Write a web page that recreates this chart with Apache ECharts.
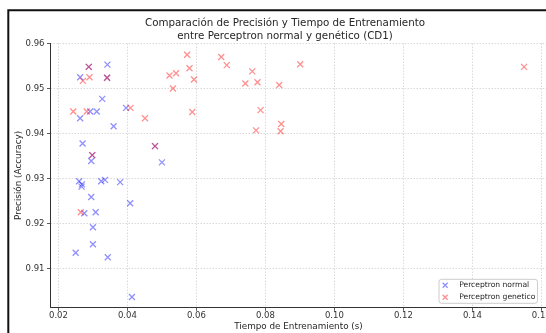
<!DOCTYPE html>
<html><head><meta charset="utf-8">
<script src="https://cdn.jsdelivr.net/npm/echarts@6/dist/echarts.min.js"></script>
<style>html,body{margin:0;padding:0;background:#fff}#c{width:546px;height:333px}</style>
</head><body><div id="c"></div>
<script>
// Perceptron normal
const normalTime = [0.0263,0.0288,0.0342,0.0341,0.0292,0.0311,0.0263,0.0327,0.0360,0.0396,0.0270,0.0298,0.0295,0.0480,0.0500,0.0260,0.0268,0.0267,0.0324,0.0335,0.0379,0.0295,0.0408,0.0275,0.0308,0.0300,0.0300,0.0250,0.0343,0.0413];
const normalAcc  = [0.9525,0.9548,0.9553,0.9524,0.9449,0.9449,0.9434,0.9477,0.9416,0.9457,0.9378,0.9352,0.9339,0.9372,0.9336,0.9294,0.9287,0.9282,0.9294,0.9297,0.9292,0.9259,0.9245,0.9223,0.9225,0.9192,0.9154,0.9135,0.9125,0.9037];
// Perceptron genetico
const geneticTime = [0.0243,0.0271,0.0290,0.0288,0.0341,0.0282,0.0409,0.0451,0.0298,0.0480,0.0265,0.0522,0.0532,0.0541,0.0573,0.0580,0.0593,0.0588,0.0672,0.0688,0.0762,0.0742,0.0777,0.0840,0.0901,0.0786,0.0846,0.0773,0.0844,0.1550];
const geneticAcc  = [0.9449,0.9517,0.9525,0.9548,0.9524,0.9449,0.9457,0.9434,0.9352,0.9372,0.9225,0.9529,0.9500,0.9534,0.9575,0.9545,0.9520,0.9448,0.9570,0.9552,0.9538,0.9511,0.9514,0.9508,0.9554,0.9452,0.9421,0.9407,0.9405,0.9548];
const xTickValues = [0.02,0.04,0.06,0.08,0.10,0.12,0.14,0.16];
const yTickValues = [0.91,0.92,0.93,0.94,0.95,0.96];
const seriesNames = ['Perceptron normal','Perceptron genetico'];
const titleText = 'Comparación de Precisión y Tiempo de Entrenamiento\nentre Perceptron normal y genético (CD1)';
const xName = 'Tiempo de Entrenamiento (s)';
const yName = 'Precisión (Accuracy)';

const FONT = 'DejaVu Sans';
const zip = (a, b) => a.map((v, i) => [v, b[i]]);
const X = 'path://M0,0L10,10M10,0L0,10';

const chart = echarts.init(document.getElementById('c'), null, {renderer: 'canvas'});
const axisCommon = {
  type: 'value',
  axisLine: {show: true, lineStyle: {color: '#333', width: 1}},
  axisTick: {show: true, inside: false, length: 3.5, lineStyle: {color: '#333', width: 0.8}},
  splitLine: {show: true, lineStyle: {color: '#d0d0d0', width: 0.8, type: [1.5, 1.5]}},
  nameLocation: 'middle',
  nameMoveOverlap: false,
  nameTextStyle: {fontFamily: FONT, fontSize: 8.8, color: '#262626'}
};
chart.setOption({
  animation: false,
  backgroundColor: '#fff',
  title: {
    text: titleText, left: 285, top: 17, textAlign: 'center', padding: 0,
    textStyle: {fontFamily: FONT, fontSize: 10.3, lineHeight: 12.7, fontWeight: 'normal', color: '#262626'}
  },
  grid: {left: 50.5, right: -0.5, top: 43.5, bottom: 25.7, containLabel: false, outerBoundsMode: 'none'},
  xAxis: Object.assign({}, axisCommon, {
    min: 0.0177, max: 0.1615, splitNumber: 7,
    name: xName, nameGap: 14.5,
    axisTick: Object.assign({}, axisCommon.axisTick, {customValues: xTickValues}),
    axisLabel: {customValues: xTickValues, showMinLabel: true, showMaxLabel: true, fontFamily: FONT, fontSize: 8.5, color: '#333', margin: 4, formatter: v => Number(v).toFixed(2)}
  }),
  yAxis: Object.assign({}, axisCommon, {
    min: 0.9014, max: 0.96, splitNumber: 6,
    name: yName, nameGap: 27,
    axisTick: Object.assign({}, axisCommon.axisTick, {customValues: yTickValues}),
    axisLabel: {customValues: yTickValues, fontFamily: FONT, fontSize: 8.5, color: '#333', margin: 6, formatter: v => Number(v).toFixed(2)}
  }),
  legend: {
    orient: 'vertical', left: 439, top: 279.3,
    padding: [0, 2, 0, 3], itemGap: 0, itemWidth: 14, itemHeight: 5,
    backgroundColor: 'rgba(255,255,255,0.8)', borderColor: '#cccccc', borderWidth: 1, borderRadius: 2.5,
    textStyle: {fontFamily: FONT, fontSize: 7.6, color: '#262626', lineHeight: 12, padding: [0, 0, 0, 2]},
    itemStyle: {borderWidth: 1.3},
    data: seriesNames.map(n => ({name: n, icon: X}))
  },
  series: [
    {name: seriesNames[0], type: 'scatter', symbol: X, symbolSize: 6, data: zip(normalTime, normalAcc),
     itemStyle: {color: 'transparent', borderColor: 'rgba(0,0,255,0.55)', borderWidth: 1.3}},
    {name: seriesNames[1], type: 'scatter', symbol: X, symbolSize: 6, data: zip(geneticTime, geneticAcc),
     itemStyle: {color: 'transparent', borderColor: 'rgba(255,0,0,0.55)', borderWidth: 1.3}}
  ],
  graphic: [{type: 'rect', silent: true, z: 100, shape: {x: 8.3, y: 10.3, width: 700, height: 500},
             style: {fill: 'none', stroke: '#111', lineWidth: 2}}]
});
</script></body></html>
